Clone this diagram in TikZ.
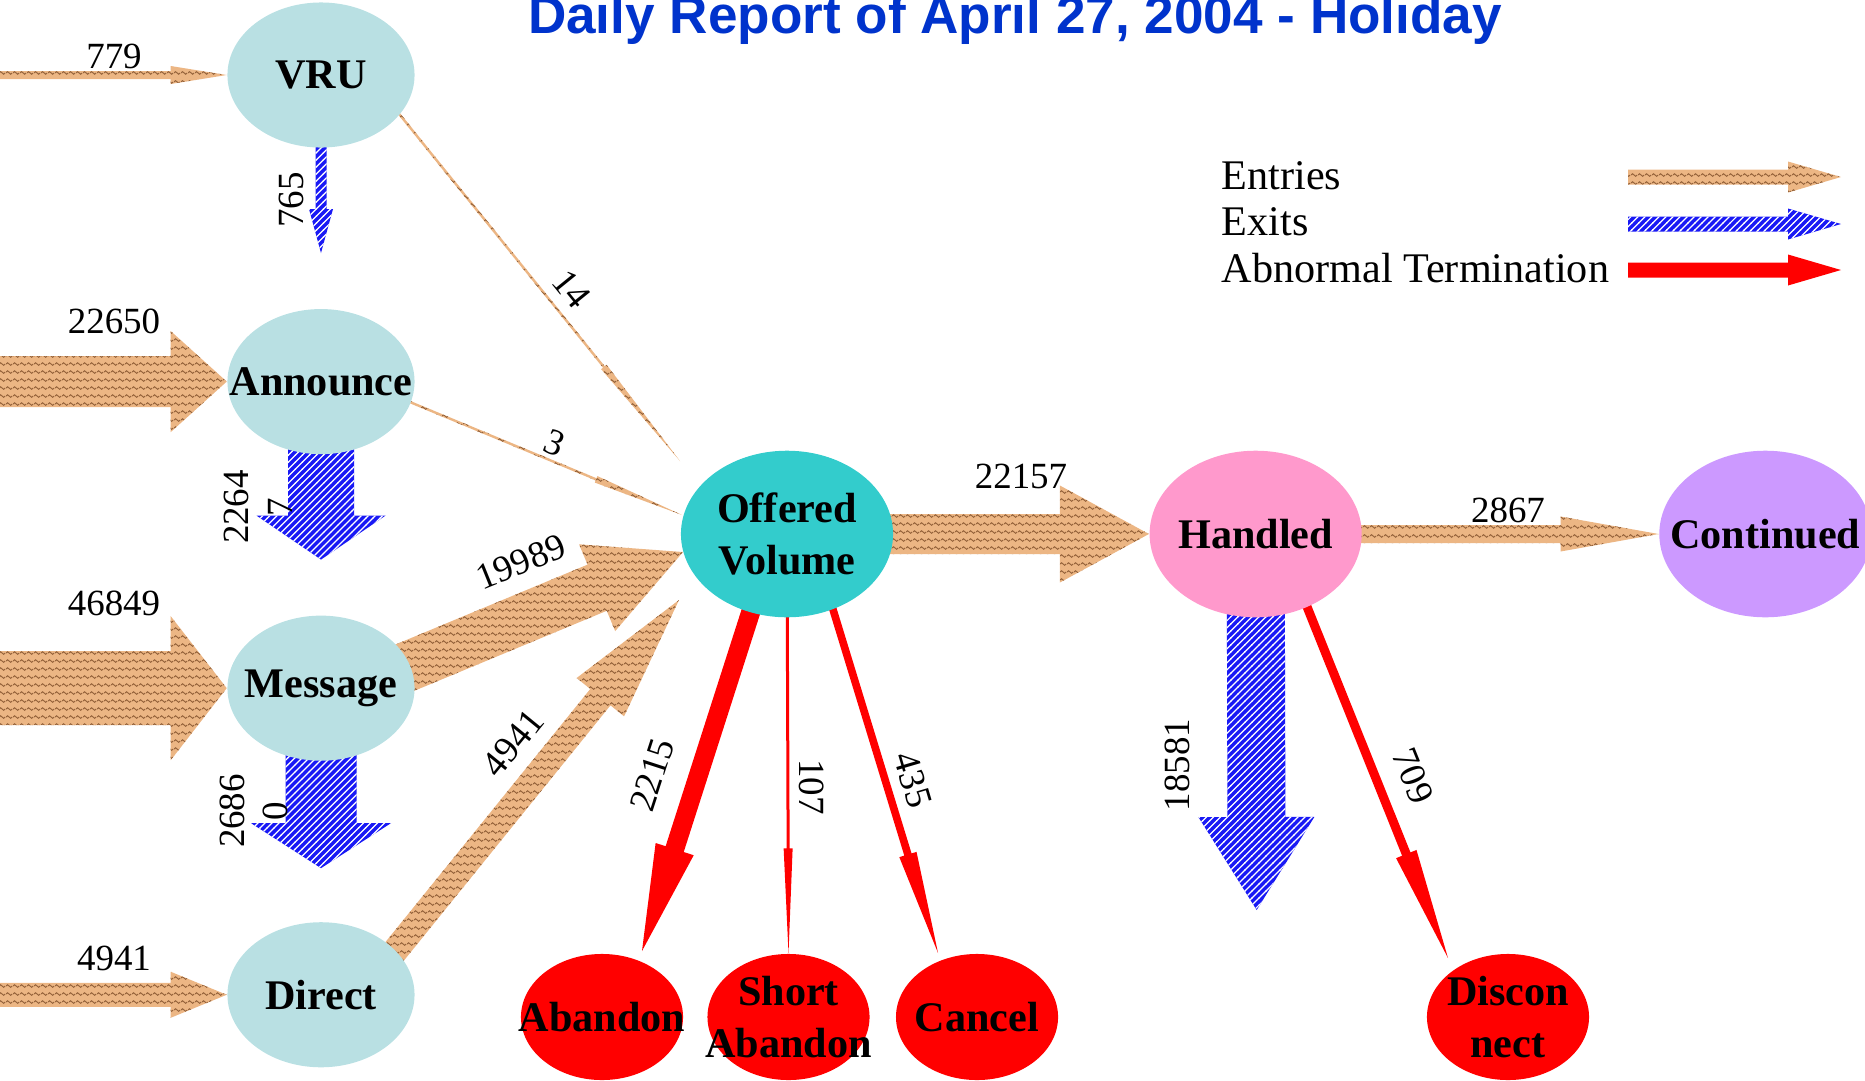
\documentclass[tikz,border=0pt]{standalone}
\usepackage{fontspec}
\setmainfont{Liberation Serif}
\newfontfamily\headfont{Liberation Sans}
\usetikzlibrary{positioning,calc,shapes.geometric,patterns,backgrounds}
\definecolor{FlowSource}{RGB}{185,224,227}
\definecolor{FlowOffered}{RGB}{51,204,204}
\definecolor{FlowHandled}{RGB}{255,153,204}
\definecolor{FlowContinued}{RGB}{204,153,255}
\definecolor{FlowStop}{RGB}{255,0,0}
\definecolor{FlowTan}{RGB}{236,182,132}
\definecolor{FlowWave}{RGB}{150,100,60}
\definecolor{FlowBlue}{RGB}{25,25,245}
\definecolor{FlowTitle}{RGB}{0,51,204}
\pgfdeclarepatternformonly{flow waves}{\pgfqpoint{0pt}{0pt}}{\pgfqpoint{2pt}{2.4pt}}{\pgfqpoint{2pt}{2.4pt}}{%
  \pgfsetlinewidth{0.3pt}%
  \pgfpathmoveto{\pgfqpoint{0pt}{1.2pt}}%
  \pgfpathcurveto{\pgfqpoint{0.35pt}{1.7pt}}{\pgfqpoint{0.65pt}{1.7pt}}{\pgfqpoint{1pt}{1.2pt}}%
  \pgfpathcurveto{\pgfqpoint{1.35pt}{0.7pt}}{\pgfqpoint{1.65pt}{0.7pt}}{\pgfqpoint{2pt}{1.2pt}}%
  \pgfusepath{stroke}}
\pgfdeclarepatternformonly{flow stripes}{\pgfqpoint{-0.5pt}{-0.5pt}}{\pgfqpoint{2.5pt}{2.5pt}}{\pgfqpoint{2pt}{2pt}}{%
  \pgfsetlinewidth{0.35pt}%
  \pgfpathmoveto{\pgfqpoint{-0.1pt}{-0.1pt}}%
  \pgfpathlineto{\pgfqpoint{2.1pt}{2.1pt}}%
  \pgfusepath{stroke}}
% block arrow: [style]{from}{to}{half shaft}{half head}{head length}
\newcommand{\flowarrow}[6][]{%
  \path[#1] ($(#2)!#4*0.01cm!90:(#3)$)
    -- ($(#3)!#6*0.01cm!(#2)!#4*0.01cm!-90:(#2)$)
    -- ($(#3)!#6*0.01cm!(#2)!#5*0.01cm!-90:(#2)$)
    -- (#3)
    -- ($(#3)!#6*0.01cm!(#2)!#5*0.01cm!90:(#2)$)
    -- ($(#3)!#6*0.01cm!(#2)!#4*0.01cm!90:(#2)$)
    -- ($(#2)!#4*0.01cm!-90:(#3)$) -- cycle;}
\tikzset{
  flow node/.style={ellipse, inner sep=0pt, minimum width=1.87cm, minimum height=1.45cm, fill=FlowSource},
  flow big/.style={flow node, minimum width=2.12cm, minimum height=1.665cm},
  flow stop/.style={flow node, fill=FlowStop, minimum width=1.62cm, minimum height=1.26cm},
  flow text/.style={font=\bfseries\fontsize{12}{14.6}\selectfont, align=center, inner sep=0pt},
  flow in/.style={fill=FlowTan, postaction={pattern=flow waves, pattern color=FlowWave}},
  flow out/.style={fill=FlowBlue, postaction={pattern=flow stripes, pattern color=white}},
  flow abn/.style={fill=FlowStop},
  flow num/.style={font=\fontsize{10.5}{12.4}\selectfont, inner sep=0pt, align=center},
  flow legend/.style={font=\fontsize{12}{14.4}\selectfont, inner sep=0pt, anchor=base west}
}
\begin{document}
\begin{tikzpicture}[x=0.01cm, y=-0.01cm]
\useasboundingbox (0,0) rectangle (1865,1081);
\node[font=\headfont\bfseries\fontsize{15.1}{18}\selectfont, text=FlowTitle, anchor=base, inner sep=0pt] (title) at (1015,33) {Daily Report of April 27, 2004 - Holiday};
\node[flow node, label={[flow text]center:VRU}] (vru) at (321,75) {};
\node[flow node, below=1.6cm of vru, label={[flow text]center:Announce}] (ann) {};
\node[flow node, below=1.6cm of ann, label={[flow text]center:Message}] (msg) {};
\node[flow node, below=1.6cm of msg, label={[flow text]center:Direct}] (direct) {};
\node[flow big, fill=FlowOffered, label={[flow text]center:Offered\\Volume}] (offered) at (787,534) {};
\node[flow big, fill=FlowHandled, right=2.55cm of offered, label={[flow text]center:Handled}] (handled) {};
\node[flow big, fill=FlowContinued, right=2.96cm of handled, label={[flow text]center:Continued}] (cont) {};
\node[flow stop, label={[flow text]center:Abandon}] (abandon) at (602,1017) {};
\node[flow stop, right=0.23cm of abandon, label={[flow text]center:Short\\Abandon}] (shab) {};
\node[flow stop, right=0.25cm of shab, label={[flow text]center:Cancel}] (cancel) {};
\node[flow stop, label={[flow text]center:Discon\\nect}] (discon) at (1508,1017) {};
\node[flow legend] (lgin) at (1221,189) {Entries};
\node[flow legend] (lgout) at (1221,235) {Exits};
\node[flow legend] (lgabn) at (1221,282) {Abnormal Termination};
\coordinate (edge) at (0,0);
\coordinate (src779) at (edge |- vru);
\coordinate (src22650) at (edge |- ann);
\coordinate (src46849) at (edge |- msg);
\coordinate (src4941) at (edge |- direct);
\coordinate (sink765) at ($(vru)+(0,178)$);
\coordinate (sink2264) at ($(ann)+(0,178)$);
\coordinate (sink2686) at ($(msg)+(0,180)$);
\coordinate (sink18581) at ($(handled)+(1,376)$);
\coordinate (a14) at ($(vru)+(66,24)$);
\coordinate (b14) at ($(offered)+(-107,-73)$);
\coordinate (a3) at ($(ann)+(71,13)$);
\coordinate (b3) at ($(offered)+(-105,-19)$);
\coordinate (a19989) at ($(msg)+(49,-6)$);
\coordinate (b19989) at ($(offered)+(-104,18)$);
\coordinate (a4941) at ($(direct)+(62,-29)$);
\coordinate (b4941) at ($(offered)+(-108,66)$);
\coordinate (a2215) at ($(offered)+(-26,46)$);
\coordinate (b2215) at ($(abandon)+(40,-66)$);
\coordinate (a435) at ($(offered)+(37,46)$);
\coordinate (b435) at ($(cancel)+(-39,-64)$);
\coordinate (a709) at ($(handled)+(41,47)$);
\coordinate (b709) at ($(discon)+(-60,-59)$);
\coordinate (lgina) at (1628,177);
\coordinate (lginb) at (1841,177);
\coordinate (lgouta) at (1628,224);
\coordinate (lgoutb) at (1841,224);
\coordinate (lgabna) at (1628,270);
\coordinate (lgabnb) at (1841,270);
\begin{scope}[on background layer]
\flowarrow[flow in]{src779}{vru.west}{4}{9}{56}
\flowarrow[flow in]{src22650}{ann.west}{25.5}{50.5}{56}
\flowarrow[flow in]{src46849}{msg.west}{37}{72}{56}
\flowarrow[flow in]{src4941}{direct.west}{12}{23}{56}
\flowarrow[flow out]{vru}{sink765}{5.5}{12}{44}
\flowarrow[flow out]{ann}{sink2264}{33}{64.5}{44}
\flowarrow[flow out]{msg}{sink2686}{35.5}{70}{45}
\flowarrow[flow in]{a14}{b14}{1.2}{3.5}{121}
\flowarrow[flow in]{a3}{b3}{1.2}{3.5}{93}
\flowarrow[flow in]{a19989}{b19989}{25}{47}{93}
\flowarrow[flow in]{a4941}{b4941}{13}{30.5}{125}
\flowarrow[flow in]{offered}{handled.west}{20}{48.5}{89}
\flowarrow[flow in]{handled}{cont.west}{9}{17.5}{98}
\flowarrow[flow out]{handled}{sink18581}{29}{58}{93}
\flowarrow[flow abn]{a2215}{b2215}{9.5}{20}{107}
\flowarrow[flow abn]{offered}{shab.north}{1.5}{4.5}{105}
\flowarrow[flow abn]{a435}{b435}{3.8}{9}{103}
\flowarrow[flow abn]{a709}{b709}{4.5}{11}{112}
\flowarrow[flow in]{lgina}{lginb}{7.5}{15.5}{53}
\flowarrow[flow out]{lgouta}{lgoutb}{7.5}{15.5}{53}
\flowarrow[flow abn]{lgabna}{lgabnb}{7.5}{15.5}{53}
\end{scope}
\node[flow num] (n779) at (114,56) {779};
\node[flow num] (n22650) at (114,321) {22650};
\node[flow num] (n46849) at (114,603) {46849};
\node[flow num] (n4941a) at (114,958) {4941};
\node[flow num, rotate=90] (n765) at (291,200) {765};
\node[flow num, rotate=90] (n22647) at (258,507) {2264\\7};
\node[flow num, rotate=90] (n26860) at (254,811) {2686\\0};
\node[flow num, rotate=90] (n18581) at (1177,765) {18581};
\node[flow num, rotate=-51] (n14) at (572,289) {14};
\node[flow num, rotate=-22.6] (n3) at (555,443) {3};
\node[flow num, rotate=22] (n19989) at (521,562) {19989};
\node[flow num, rotate=50.8] (n4941b) at (513,743) {4941};
\node[flow num] (n22157) at (1021,476) {22157};
\node[flow num] (n2867) at (1508,510) {2867};
\node[flow num, rotate=72] (n2215) at (652,775) {2215};
\node[flow num, rotate=-90] (n107) at (812,787) {107};
\node[flow num, rotate=-73.6] (n435) at (913,780) {435};
\node[flow num, rotate=-68] (n709) at (1413,776) {709};
\end{tikzpicture}
\end{document}
